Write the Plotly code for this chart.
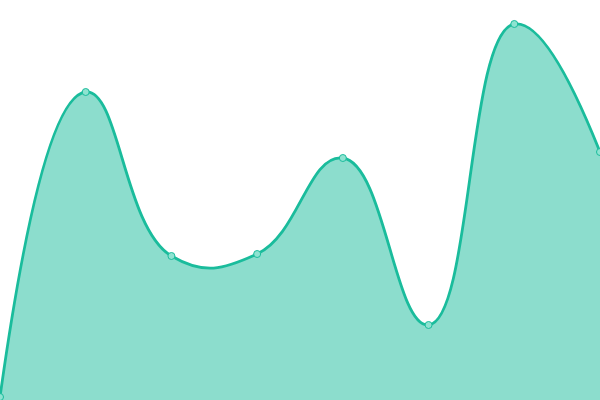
import plotly.graph_objects as go

categories = [0, 1, 2, 3, 4, 5, 6, 7]
values = [3, 308, 144, 146, 242, 75, 376, 248]

fig = go.Figure()
fig.add_trace(go.Scatter(
    x=categories, y=values,
    mode="lines+markers",
    line=dict(shape="spline", smoothing=1.3, color="#1abc9c", width=2.8),
    fill="tozeroy",
    fillcolor="rgba(26,188,156,0.5)",
    marker=dict(size=7, color="#8ee3d1", line=dict(color="#1abc9c", width=1)),
    hoverinfo="skip",
))
fig.update_layout(
    width=600, height=400,
    margin=dict(l=0, r=0, t=0, b=0),
    paper_bgcolor="white", plot_bgcolor="white",
    showlegend=False,
    xaxis=dict(range=[0, 7], visible=False, fixedrange=True),
    yaxis=dict(range=[0, 400], visible=False, fixedrange=True),
)
fig.write_html(
    "out.html",
    config={"displayModeBar": False},
    post_script="document.body.style.margin='0';document.body.style.padding='0';",
)
